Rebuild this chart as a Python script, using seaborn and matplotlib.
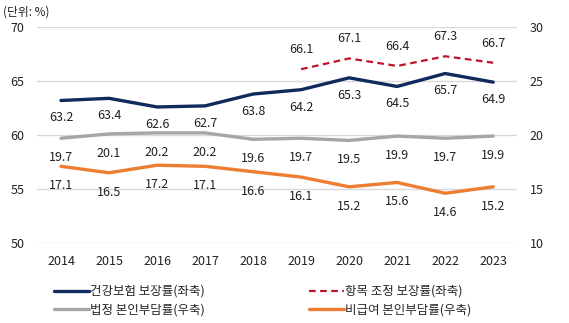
import matplotlib
matplotlib.use("Agg")
import matplotlib.pyplot as plt
import seaborn as sns
import pandas as pd

years = ["2014", "2015", "2016", "2017", "2018", "2019", "2020", "2021", "2022", "2023"]
health_cov = [63.2, 63.4, 62.6, 62.7, 63.8, 64.2, 65.3, 64.5, 65.7, 64.9]
adj_years = ["2019", "2020", "2021", "2022", "2023"]
adj_cov = [66.1, 67.1, 66.4, 67.3, 66.7]
legal_oop = [19.7, 20.1, 20.2, 20.2, 19.6, 19.7, 19.5, 19.9, 19.7, 19.9]
nonpay_oop = [17.1, 16.5, 17.2, 17.1, 16.6, 16.1, 15.2, 15.6, 14.6, 15.2]

names = ["건강보험 보장률(좌축)", "항목 조정 보장률(좌축)", "법정 본인부담률(우축)", "비급여 본인부담률(우축)"]
C_NAVY = "#0f2a5c"
C_RED = "#c0142a"
C_GRAY = "#a6a6a6"
C_ORANGE = "#ed7d31"

sns.set_theme(style="white")
plt.rcParams['font.family'] = ['Noto Sans CJK KR', 'DejaVu Sans']

fig = plt.figure(figsize=(5.69, 3.23), dpi=100)
ax = fig.add_axes([0.065, 0.248, 0.844, 0.668])
ax2 = ax.twinx()

xpos = {y: i for i, y in enumerate(years)}
df_h = pd.DataFrame({"x": [xpos[y] for y in years], "v": health_cov})
df_a = pd.DataFrame({"x": [xpos[y] for y in adj_years], "v": adj_cov})
df_l = pd.DataFrame({"x": [xpos[y] for y in years], "v": legal_oop})
df_n = pd.DataFrame({"x": [xpos[y] for y in years], "v": nonpay_oop})

sns.lineplot(data=df_h, x="x", y="v", ax=ax, color=C_NAVY, lw=2.4, label=names[0], legend=False)
sns.lineplot(data=df_a, x="x", y="v", ax=ax, color=C_RED, lw=1.6, ls=(0, (3, 2)), label=names[1], legend=False)
sns.lineplot(data=df_l, x="x", y="v", ax=ax2, color=C_GRAY, lw=2.4, label=names[2], legend=False)
sns.lineplot(data=df_n, x="x", y="v", ax=ax2, color=C_ORANGE, lw=2.4, label=names[3], legend=False)

ax.set_ylim(50, 70)
ax2.set_ylim(10, 30)
ax.set_xlim(-0.5, len(years) - 0.5)
ax.set_yticks([50, 55, 60, 65, 70])
ax2.set_yticks([10, 15, 20, 25, 30])
ax.set_xticks(range(len(years)))
ax.set_xticklabels(years)
ax.set_xlabel("")
ax.set_ylabel("")
ax2.set_ylabel("")
ax.yaxis.grid(True, color="#d9d9d9", lw=1)
ax.set_axisbelow(True)
fs = 9
for a in (ax, ax2):
    for s in a.spines.values():
        s.set_visible(False)
    a.tick_params(axis="both", length=0, labelsize=fs, colors="#222222", pad=9)
ax.tick_params(axis="y", pad=9)
ax2.tick_params(axis="y", pad=9)

for i, v in enumerate(health_cov):
    ax.annotate(f"{v}", (i, v), xytext=(0, -12.5), textcoords="offset points",
                ha="center", va="center", fontsize=fs, color="#222222")
for y, v in zip(adj_years, adj_cov):
    ax.annotate(f"{v}", (xpos[y], v), xytext=(0, 14), textcoords="offset points",
                ha="center", va="center", fontsize=fs, color="#222222")
for i, v in enumerate(legal_oop):
    ax2.annotate(f"{v}", (i, v), xytext=(0, -14), textcoords="offset points",
                 ha="center", va="center", fontsize=fs, color="#222222")
for i, v in enumerate(nonpay_oop):
    ax2.annotate(f"{v}", (i, v), xytext=(0, -14), textcoords="offset points",
                 ha="center", va="center", fontsize=fs, color="#222222")

fig.text(0.005, 0.962, "(단위: %)", fontsize=8.5, color="#222222", ha="left", va="center")

h1, l1 = ax.get_legend_handles_labels()
h2, l2 = ax2.get_legend_handles_labels()
hmap = dict(zip(l1 + l2, h1 + h2))
order = [names[0], names[2], names[1], names[3]]
fig.legend([hmap[n] for n in order], order, ncol=2, loc="lower left",
           bbox_to_anchor=(0.075, -0.015), frameon=False, fontsize=9,
           handlelength=2.8, handletextpad=0.1, columnspacing=8.3, labelspacing=0.45)

fig.savefig("out.png", dpi=100)
